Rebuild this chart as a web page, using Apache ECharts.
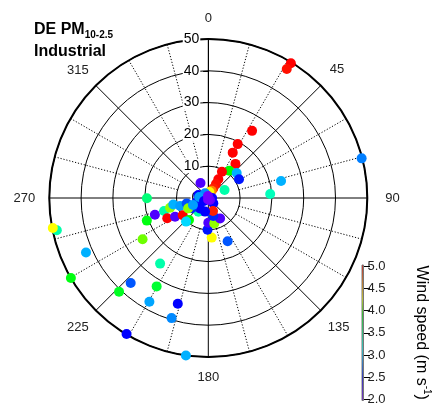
<!DOCTYPE html>
<html><head><meta charset="utf-8">
<script src="https://cdn.jsdelivr.net/npm/echarts@6/dist/echarts.min.js"></script>
<style>html,body{margin:0;padding:0;background:#fff}#c{width:432px;height:406px}</style>
</head><body><div id="c"></div>
<script>
// Concentration (radius, 0-50), wind direction (deg), wind speed (m/s)
const radii = [49.7,47.5,25.2,19.3,16.2,13.7,10.8,11.9,11.3,9.3,6.7,5.0,3.4,2.5,1.9,5.7,49.8,23.5,19.5,5.3,
  3.3,2.2,3.8,1.8,19.3,17.6,14.5,12.4,11.2,9.2,7.0,14.4,12.0,9.7,9.2,20.6,24.4,48.7,49.8,42.1,
  50.0,25.6,32.2,36.2,40.7,37.5,34.6,39.5,49.9,50.0,14.9,12.5,10.0,7.8,8.2,7.4,4.9,5.9,2.3,5.3,
  4.2,6.1,10.2,7.1,4.35,4.4,5.3,2.9,1.65,1.2,0.8,0.6,0.5];
const angles = [31.5,31.3,33.1,28.6,28.3,38.5,37.6,48.6,58.7,27.5,28.1,28.8,27.3,25,11,63.7,75.5,76.8,86.3,332.5,
  286.7,253,252,325,269.7,252.6,253.6,255.8,259.5,254,256,243.7,240.6,236,221.3,249.8,237.9,258,259.1,246,
  239.8,216.3,210.3,222.4,223.6,209.6,196.1,197,211,188.1,155.9,175.1,181.4,180,166.7,150,167.5,164.5,136.7,216,
  218.9,238.2,223.3,242.7,160,193.5,245.4,276,235,90,140,350,190];
const windSpeed = [5.0,4.95,5.0,5.0,5.0,5.0,3.9,2.95,2.55,5.0,5.0,4.95,4.9,4.6,4.25,3.4,2.82,2.95,3.35,2.2,
  2.5,2.5,2.55,2.85,3.55,2.2,3.4,4.1,2.95,2.9,2.7,5.0,2.2,5.0,3.9,3.85,4.05,3.4,4.25,2.95,
  3.85,3.4,3.75,2.72,3.8,2.92,2.5,2.85,2.5,2.95,2.72,4.25,2.55,2.2,4.1,2.2,2.9,2.6,2.5,3.4,
  2.5,2.6,3.05,4.1,4.9,2.5,2.9,2.9,2.5,2.45,2.1,2.05,2.05];

const majorSpokeAngles = [0,45,90,135,180,225,270,315];
const minorSpokeAngles = [15,30,60,75,105,120,150,165,195,210,240,255,285,300,330,345];
const colorStopValues = [2.0,2.5,3.15,3.9,4.25,4.6,5.0];
const colorStopColors = ['#8000ff','#0000ff','#00ffff','#00ff00','#ffff00','#ff8000','#ff0000'];
const colorbarRange = [2.0,5.0];

const FONT = 'Liberation Sans, Arial, Helvetica, sans-serif';

function hex2rgb(h){return [parseInt(h.substr(1,2),16),parseInt(h.substr(3,2),16),parseInt(h.substr(5,2),16)];}
function colorAt(v){
  for(let i=0;i<colorStopValues.length-1;i++){
    const a=colorStopValues[i], b=colorStopValues[i+1];
    if(v<=b || i===colorStopValues.length-2){
      const t=Math.max(0,Math.min(1,(v-a)/(b-a)));
      const c1=hex2rgb(colorStopColors[i]), c2=hex2rgb(colorStopColors[i+1]);
      const c=c1.map((x,k)=>Math.round(x+(c2[k]-x)*t));
      return 'rgb('+c.join(',')+')';
    }
  }
}
const vmColors=[]; for(let k=0;k<=60;k++){vmColors.push(colorAt(2+k*0.05));}

const chart = echarts.init(document.getElementById('c'), null, {renderer:'canvas'});

const series = [];
majorSpokeAngles.forEach(a=>{
  series.push({type:'line',coordinateSystem:'polar',polarIndex:0,data:[[0,a],[50,a]],symbol:'none',
    lineStyle:{color:'#000',width:1},silent:true,z:1,animation:false});
});
minorSpokeAngles.forEach(a=>{
  series.push({type:'line',coordinateSystem:'polar',polarIndex:0,data:[[10,a],[50,a]],symbol:'none',
    lineStyle:{color:'#000',width:1,type:[1.2,1.8]},silent:true,z:1,animation:false});
});
const pts = radii.map((r,i)=>[r,angles[i],windSpeed[i]]);
const scatterIndex = series.length;
series.push({type:'scatter',coordinateSystem:'polar',polarIndex:0,data:pts,symbolSize:10,z:5,
  itemStyle:{opacity:1},animation:false});
// colour bar fill
series.push({type:'custom',xAxisIndex:0,yAxisIndex:0,data:[[0,colorbarRange[0],colorbarRange[1]]],z:3,silent:true,
  renderItem:function(params,api){
    const p0=api.coord([0,api.value(1)]), p1=api.coord([1,api.value(2)]);
    return {type:'rect',shape:{x:p0[0],y:p1[1]-1,width:p1[0]-p0[0],height:p0[1]-p1[1]+2},
      style:{fill:new echarts.graphic.LinearGradient(0,1,0,0,
        colorStopValues.map((v,i)=>({offset:(v-colorbarRange[0])/(colorbarRange[1]-colorbarRange[0]),color:colorStopColors[i]}))),
        stroke:'#777',lineWidth:1}};
  }});

const cx=208.3, cy=198, R=159;
const lab = {fontSize:13,color:'#222',fontFamily:FONT};
const angRich = {
  a0:Object.assign({padding:[0,0,4,0]},lab),
  a45:Object.assign({padding:[0,0,3,2]},lab),
  a90:Object.assign({padding:[0,0,0,8]},lab),
  a135:Object.assign({padding:[3.5,0,0,0]},lab),
  a180:Object.assign({padding:[4,0,0,0]},lab),
  a225:Object.assign({padding:[3.5,0,0,0]},lab),
  a270:Object.assign({padding:[0,4,0,0]},lab),
  a315:Object.assign({padding:[0,0,2,0]},lab)
};

chart.setOption({
  animation:false,
  backgroundColor:'#fff',
  textStyle:{fontFamily:FONT},
  title:[
    {text:'{b|DE PM}{s|10-2.5}',left:29,top:17,textStyle:{rich:{
      b:{fontSize:16,fontWeight:'bold',color:'#000',fontFamily:FONT,verticalAlign:'top',lineHeight:18},
      s:{fontSize:10,fontWeight:'bold',color:'#000',fontFamily:FONT,verticalAlign:'top',lineHeight:10,padding:[8,0,0,0]}}}},
    {text:'Industrial',left:29,top:39,textStyle:{fontSize:16,fontWeight:'bold',color:'#000',fontFamily:FONT}}
  ],
  polar:[{center:[cx,cy],radius:R},{center:[cx,cy],radius:R}],
  angleAxis:[
    {polarIndex:0,type:'value',min:0,max:360,interval:45,startAngle:90,clockwise:true,
     axisLine:{lineStyle:{color:'#000',width:2}},axisTick:{show:false},splitLine:{show:false},
     axisLabel:{margin:10,fontSize:13,color:'#222',fontFamily:FONT,
       formatter:v=>v===360?'':'{a'+v+'|'+v+'}',rich:angRich},z:1},
    {polarIndex:1,type:'value',min:0,max:360,startAngle:90,clockwise:true,show:false}
  ],
  radiusAxis:[
    {polarIndex:0,type:'value',min:0,max:50,interval:10,
     axisLine:{show:true,lineStyle:{color:'#000',width:1}},
     axisTick:{show:true,length:5,lineStyle:{color:'#000',width:1}},
     splitLine:{show:true,lineStyle:{color:'#000',width:1}},
     axisLabel:{show:true,margin:0,align:'right',verticalAlign:'middle',padding:[0,8,0,0],
       formatter:v=>'{v|'+v+'}',
       rich:{v:{fontSize:14,color:'#000',fontFamily:FONT,backgroundColor:'#fff',padding:[0,1,0,1]}}},z:2},
    {polarIndex:1,type:'value',min:0,max:50,interval:10,
     axisLine:{show:false},axisTick:{show:true,inside:true,length:5,lineStyle:{color:'#000',width:1}},
     splitLine:{show:false},axisLabel:{show:false},z:2}
  ],
  grid:{left:362,top:266,width:6,height:134},
  xAxis:{type:'value',show:false,min:0,max:1},
  yAxis:{type:'value',min:colorbarRange[0],max:colorbarRange[1],interval:0.5,position:'right',
    axisLine:{show:false},axisTick:{show:true,length:8,lineStyle:{color:'#000'}},splitLine:{show:false},
    axisLabel:{fontSize:13,color:'#222',fontFamily:FONT,margin:4,formatter:v=>v.toFixed(1)},
    name:'{a|Wind speed (m s}{u|-1}{a|)}',nameLocation:'middle',nameRotate:-90,nameGap:50,
    nameTextStyle:{rich:{a:{fontSize:16,color:'#000',fontFamily:FONT,verticalAlign:'bottom',lineHeight:18},
      u:{fontSize:10,color:'#000',fontFamily:FONT,verticalAlign:'top',lineHeight:18}}}},
  visualMap:{type:'continuous',show:false,min:2,max:5,dimension:2,seriesIndex:scatterIndex,
    inRange:{color:vmColors}},
  series:series
});
</script></body></html>
